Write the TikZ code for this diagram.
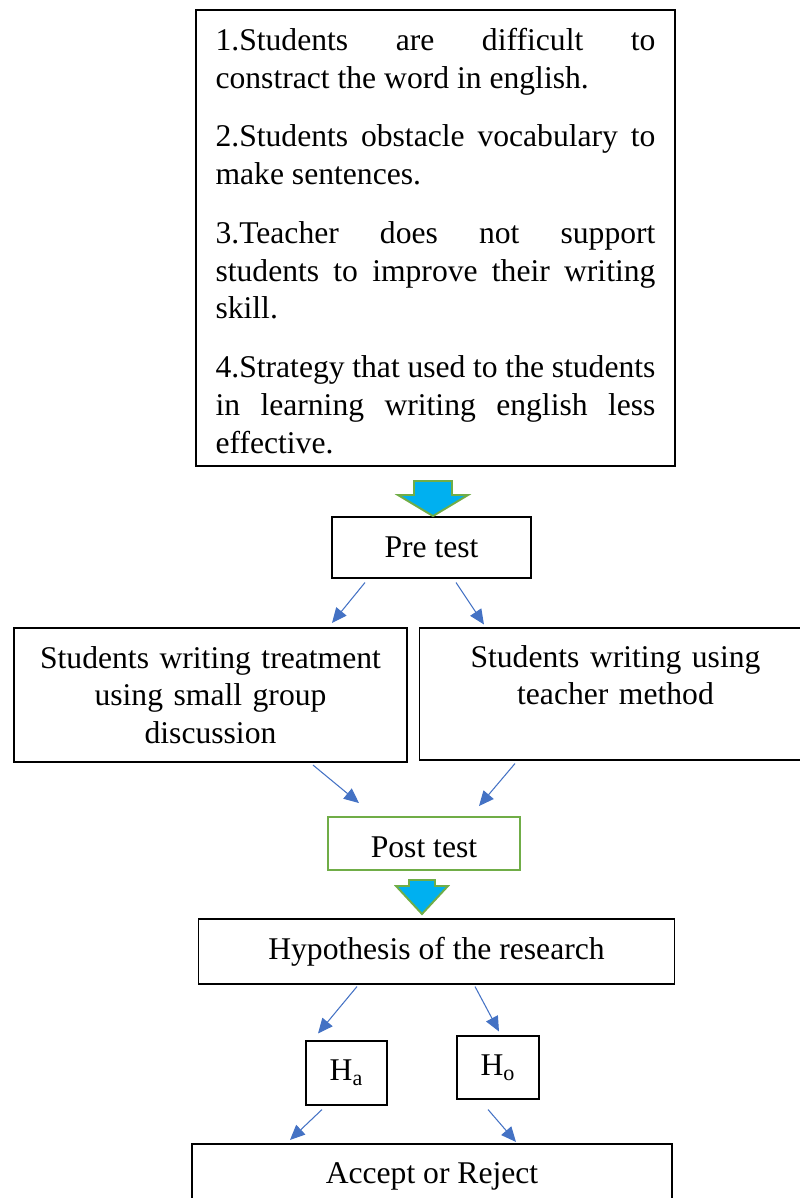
\documentclass[tikz,border=0pt]{standalone}
\usepackage{fontspec}
\setmainfont{Liberation Serif}
\usetikzlibrary{arrows.meta,calc}
\definecolor{arrblue}{HTML}{4472C4}
\definecolor{fillcyan}{HTML}{00B0F0}
\definecolor{grnline}{HTML}{70AD47}
\begin{document}
\begin{tikzpicture}[x=0.02cm, y=-0.02cm,
  font=\fontsize{18pt}{21.5pt}\selectfont,
  box/.style={draw, line width=0.6pt, align=center},
  heavy/.style={box, line width=1.2pt},
  midbox/.style={heavy, text width=7.4cm, text depth=43pt, minimum width=7.86cm},
  arr/.style={-{Triangle[length=8.5pt, width=7.5pt]}, line width=0.6pt, arrblue},
  blockarr/.style={fill=fillcyan, draw=grnline, line width=1.1pt, line join=miter}]
  \useasboundingbox (0,0) rectangle (799,1198);
  \node[heavy, anchor=north, text width=8.8cm, align=justify, text height=15.8pt, minimum height=9.12cm, inner xsep=0.39cm] (prob) at (435.5,9)
    {1.Students are difficult to\linebreak constract the word in english.\par\vspace{11.9pt}
     2.Students obstacle vocabulary to\linebreak make sentences.\par\vspace{11.9pt}
     3.Teacher does not support\linebreak students to improve their writing\linebreak skill.\par\vspace{11.9pt}
     4.Strategy that used to the students\linebreak in learning writing english less\linebreak effective.};
  \node[box, minimum width=3.98cm, minimum height=1.22cm] (pre) at (431.5,547.5) {Pre test};
  \node[midbox, minimum height=2.68cm] (treat) at (210.5,695) {Students writing treatment\\using small group\\discussion};
  \node[midbox, line width=0.6pt, minimum height=2.64cm] (teach) at (615.5,694) {Students writing using\\teacher method};
  \node[box, draw=grnline, line width=1.1pt, text height=16.5pt, minimum width=3.84cm, minimum height=1.06cm] (post) at (424,843.5) {Post test};
  \node[box, minimum width=9.54cm, minimum height=1.3cm] (hypo) at (436.5,951.5) {Hypothesis of the research};
  \node[box, minimum width=1.62cm, minimum height=1.28cm] (ha) at (346.5,1073) {H\textsubscript{a}};
  \node[box, minimum width=1.64cm, minimum height=1.26cm] (ho) at (498,1067.5) {H\textsubscript{o}};
  \node[heavy, minimum width=9.6cm, minimum height=1.28cm] (dec) at (432,1176) {Accept or Reject};
  % block arrows
  \draw[blockarr] ($(prob.south)+(-2.5,14)$) ++(-19,0) -- ++(38,0) -- ++(0,14) -- ++(16,0)
    -- ++(-35,21) -- ++(-35,-21) -- ++(16,0) -- cycle;
  \draw[blockarr] ($(post.south)+(-2,9)$) ++(-13,0) -- ++(26,0) -- ++(0,6) -- ++(13,0)
    -- ++(-26,28) -- ++(-26,-28) -- ++(13,0) -- cycle;
  % connectors
  \draw[arr] ($(pre.south)+(-66.5,4)$) -- ($(treat.north)+(121.5,-4)$);
  \draw[arr] ($(pre.south)+(24.5,4)$) -- ($(teach.north)+(-131.5,-3)$);
  \draw[arr] ($(treat.south)+(102.5,2)$) -- ($(post.north)+(-65,-13)$);
  \draw[arr] ($(teach.south)+(-100.5,3)$) -- ($(post.north)+(55,-10)$);
  \draw[arr] ($(hypo.south)+(-79.5,2)$) -- ($(ha.north)+(-28.5,-7)$);
  \draw[arr] ($(hypo.south)+(38.5,2)$) -- ($(ho.north)+(1,-4)$);
  \draw[arr] ($(ha.south)+(-24.5,4)$) -- ($(dec.north)+(-142,-3)$);
  \draw[arr] ($(ho.south)+(-10,10)$) -- ($(dec.north)+(84,-1)$);
\end{tikzpicture}
\end{document}
